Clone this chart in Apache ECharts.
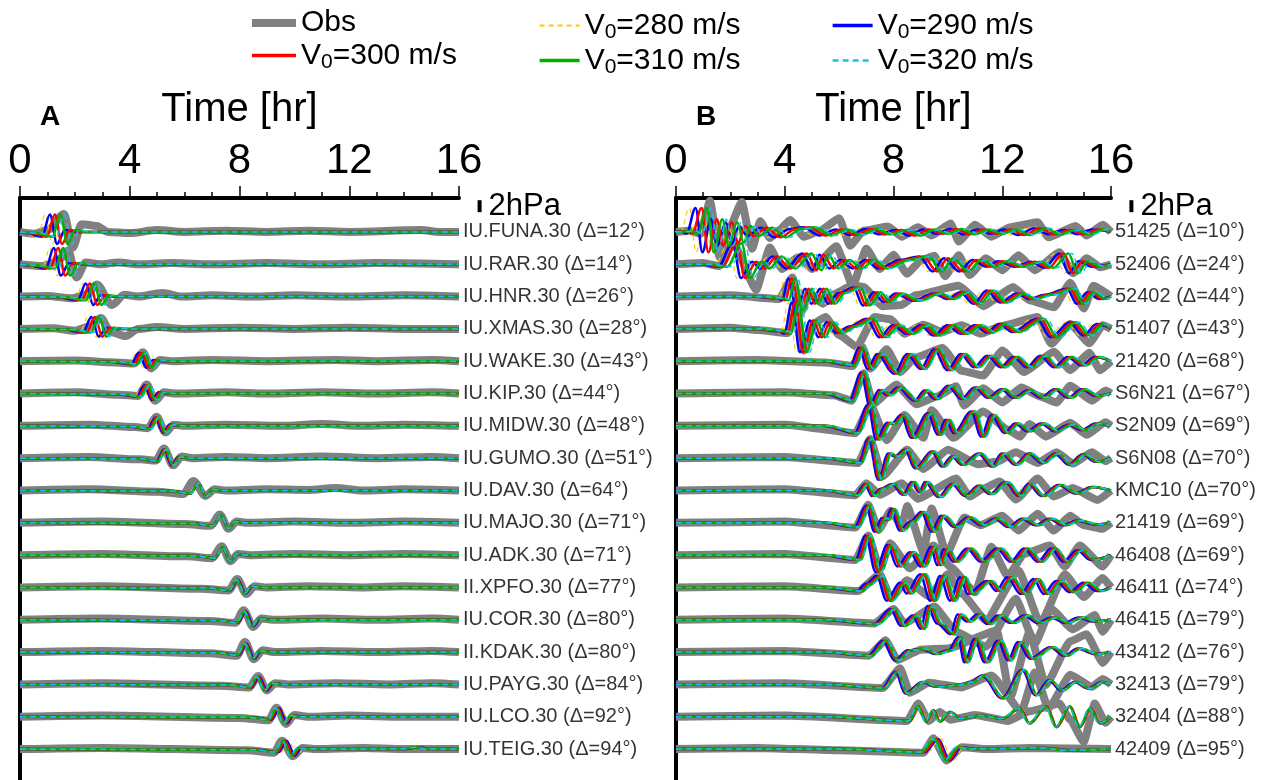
<!DOCTYPE html>
<html>
<head>
<meta charset="utf-8">
<script src="https://cdn.jsdelivr.net/npm/echarts@6/dist/echarts.min.js"></script>
<style>html,body{margin:0;padding:0;background:#fff}#c{width:1271px;height:780px}</style>
</head>
<body>
<div id="c"></div>
<script>
// ---------------- DATA ----------------
const S = 5.4;            // spacing between traces, hPa
const scaleBarHPa = 2;    // scale bar length
const xTicks = [0, 4, 8, 12, 16];

const stationsA = ['IU.FUNA.30 (Δ=12°)','IU.RAR.30 (Δ=14°)','IU.HNR.30 (Δ=26°)','IU.XMAS.30 (Δ=28°)','IU.WAKE.30 (Δ=43°)','IU.KIP.30 (Δ=44°)','IU.MIDW.30 (Δ=48°)','IU.GUMO.30 (Δ=51°)','IU.DAV.30 (Δ=64°)','IU.MAJO.30 (Δ=71°)','IU.ADK.30 (Δ=71°)','II.XPFO.30 (Δ=77°)','IU.COR.30 (Δ=80°)','II.KDAK.30 (Δ=80°)','IU.PAYG.30 (Δ=84°)','IU.LCO.30 (Δ=92°)','IU.TEIG.30 (Δ=94°)'];
const stationsB = ['51425 (Δ=10°)','52406 (Δ=24°)','52402 (Δ=44°)','51407 (Δ=43°)','21420 (Δ=68°)','S6N21 (Δ=67°)','S2N09 (Δ=69°)','S6N08 (Δ=70°)','KMC10 (Δ=70°)','21419 (Δ=69°)','46408 (Δ=69°)','46411 (Δ=74°)','46415 (Δ=79°)','43412 (Δ=76°)','32413 (Δ=79°)','32404 (Δ=88°)','42409 (Δ=95°)'];

// observed waveforms [time hr, hPa]
const obsA = [
 [[0,0],[0.5,-0.3],[1.0,0.3],[1.6,3.0],[1.92,-2.6],[2.25,1.3],[2.8,1.0],[3.2,0],[4.0,-0.2],[5.0,0.3],[6.0,0],[7.5,0.2],[9.0,0],[10.5,0.2],[12,0],[14.6,0.3],[15.3,0],[16,0]],
 [[0,0],[0.8,-0.3],[1.35,0.4],[1.75,2.3],[2.06,-2.2],[2.4,0.3],[2.9,0],[3.6,0.3],[4.3,0],[5.5,0.2],[7,0],[9,0.2],[11,0],[13,0.2],[16,0]],
 [[0,0],[1.0,0.1],[1.9,-0.3],[2.45,0.4],[2.8,2.0],[3.35,-1.4],[3.8,0.3],[4.3,0],[5.2,0.6],[5.9,0],[7.0,0.2],[8.5,0],[10,0.2],[12,0],[14,0.2],[16,0]],
 [[0,0],[1.2,0.1],[2.0,-0.3],[2.55,0.4],[2.95,1.8],[3.3,-0.5],[3.85,-1.2],[4.3,0],[5.0,0.3],[6.0,0],[8,0.2],[10,0],[12,0.2],[14,0],[16,0]],
 [[0,0],[2.0,0.1],[3.5,-0.2],[4.15,-0.4],[4.48,1.5],[4.78,-1.2],[5.1,0.2],[5.6,0],[7,0.2],[9,0],[11.5,0.2],[13,0],[15,0.2],[16,0]],
 [[0,0],[2.0,0.2],[3.6,-0.2],[4.3,-0.4],[4.62,1.5],[4.92,-1.2],[5.25,0.2],[5.7,0],[7.5,0.2],[9,0],[11,0.2],[13,0],[15,0.2],[16,0]],
 [[0,0],[2.5,0.2],[4.2,-0.2],[4.65,-0.4],[4.98,1.5],[5.3,-1.1],[5.6,0.2],[6.0,0],[7.5,0.2],[9.5,0],[11,0.3],[12.5,0],[14,0.2],[16,0]],
 [[0,0],[2.5,0.2],[4.4,-0.2],[4.95,-0.4],[5.25,1.6],[5.58,-1.2],[5.9,0.3],[6.3,0],[7.5,0.2],[9,0],[11,0.3],[13,0],[15,0.2],[16,0]],
 [[0,0],[2.5,0.2],[5.0,-0.2],[5.95,-0.6],[6.32,1.6],[6.75,-0.9],[7.1,0.2],[7.5,0],[9,0.2],[10.5,0.1],[11.5,0.4],[12.5,0],[14,0.2],[16,0]],
 [[0,0],[3,0.2],[6.0,-0.2],[6.95,-0.5],[7.28,1.4],[7.6,-1.0],[7.9,0.2],[8.3,0],[10,0.2],[12,0],[14,0.2],[16,0]],
 [[0,0],[3,0.2],[6.1,-0.2],[7.0,-0.5],[7.35,1.5],[7.67,-1.0],[7.95,0.2],[8.4,0],[10,0.2],[12,0],[14,0.2],[16,0]],
 [[0,0],[3,0.2],[6.6,-0.2],[7.6,-0.5],[7.92,1.4],[8.25,-1.1],[8.55,0.2],[9,0],[10.5,0.2],[12.5,0],[14,0.2],[16,0]],
 [[0,0],[3,0.2],[6.9,-0.2],[7.85,-0.5],[8.15,1.6],[8.5,-1.2],[8.8,0.2],[9.3,0],[11,0.2],[13,0],[15,0.2],[16,0]],
 [[0,0],[3,0.2],[6.9,-0.2],[7.9,-0.6],[8.2,1.7],[8.52,-1.2],[8.85,0.3],[9.3,0],[11,0.2],[13,0],[15,0.2],[16,0]],
 [[0,0],[3,0.2],[7.3,-0.2],[8.35,-0.5],[8.68,1.4],[9.0,-1.0],[9.3,0.2],[9.8,0],[11.5,0.2],[13.5,0],[15,0.2],[16,0]],
 [[0,0],[3,0.2],[8.0,-0.2],[9.05,-0.6],[9.35,1.5],[9.7,-1.2],[10.0,0.3],[10.5,0],[12,0.2],[14,0],[16,0]],
 [[0,0],[3,0.2],[8.3,-0.2],[9.25,-0.6],[9.55,1.4],[9.95,-1.2],[10.3,0.2],[10.8,0],[12.5,0.2],[14,0],[16,0]]
];
// simulated waveforms, V0=300 m/s
const modA = [
 [[0,0],[0.4,-0.2],[0.98,-0.8],[1.27,2.9],[1.53,-2.0],[1.82,0.3],[2.2,0],[16,0]],
 [[0,0],[0.5,-0.2],[1.1,-0.7],[1.39,2.7],[1.65,-1.9],[1.95,0.2],[2.35,0],[16,0]],
 [[0,0],[1.5,-0.1],[2.25,-0.6],[2.55,2.2],[2.82,-1.4],[3.1,0.2],[3.5,0],[16,0]],
 [[0,0],[1.7,-0.1],[2.43,-0.6],[2.73,2.0],[3.0,-1.3],[3.28,0.2],[3.7,0],[16,0]],
 [[0,0],[3.4,-0.1],[4.15,-0.5],[4.43,1.4],[4.7,-1.1],[4.95,0.2],[5.35,0],[16,0]],
 [[0,0],[3.6,-0.1],[4.32,-0.5],[4.6,1.4],[4.87,-1.1],[5.12,0.2],[5.5,0],[16,0]],
 [[0,0],[4.0,-0.1],[4.7,-0.5],[4.98,1.4],[5.25,-1.1],[5.5,0.2],[5.9,0],[16,0]],
 [[0,0],[4.3,-0.1],[5.0,-0.5],[5.28,1.5],[5.55,-1.2],[5.8,0.2],[6.2,0],[16,0]],
 [[0,0],[5.5,-0.1],[6.22,-0.5],[6.5,1.3],[6.77,-1.0],[7.02,0.2],[7.4,0],[16,0]],
 [[0,0],[6.3,-0.1],[7.04,-0.5],[7.32,1.3],[7.6,-1.0],[7.85,0.2],[8.25,0],[16,0]],
 [[0,0],[6.35,-0.1],[7.1,-0.5],[7.38,1.3],[7.66,-1.0],[7.9,0.2],[8.3,0],[16,0]],
 [[0,0],[6.9,-0.1],[7.64,-0.5],[7.92,1.3],[8.2,-1.0],[8.45,0.2],[8.85,0],[16,0]],
 [[0,0],[7.2,-0.1],[7.92,-0.5],[8.2,1.4],[8.48,-1.1],[8.73,0.2],[9.15,0],[16,0]],
 [[0,0],[7.2,-0.1],[7.95,-0.5],[8.23,1.4],[8.51,-1.1],[8.76,0.2],[9.2,0],[16,0]],
 [[0,0],[7.7,-0.1],[8.4,-0.5],[8.68,1.3],[8.96,-1.0],[9.2,0.2],[9.6,0],[16,0]],
 [[0,0],[8.4,-0.1],[9.12,-0.5],[9.4,1.4],[9.68,-1.1],[9.93,0.2],[10.35,0],[16,0]],
 [[0,0],[8.6,-0.1],[9.37,-0.5],[9.65,1.4],[9.95,-1.1],[10.2,0.2],[10.6,0],[13.9,0],[14.5,0.3],[14.9,0],[16,0]]
];
// arrival offsets of the other models relative to V0=300 (hr)
const shiftA280 = [-0.35,-0.3,-0.25,-0.25,-0.18,-0.14,-0.1,-0.06,-0.02,0,0,0.03,0.04,0.05,0.07,0.1,0.14];
const shiftA290 = [-0.18,-0.16,-0.15,-0.13,-0.1,-0.07,-0.05,-0.03,0,0,0,0.02,0.03,0.03,0.04,0.05,0.06];
const shiftA310 = [0.2,0.18,0.15,0.15,0.1,0.07,0.05,0.03,0,0,0,-0.02,-0.02,-0.03,-0.04,-0.05,-0.06];
const shiftA320 = [0.35,0.3,0.27,0.25,0.18,0.13,0.09,0.05,0.02,0,0,-0.02,-0.03,-0.04,-0.06,-0.08,-0.1];

const obsB = [
 [[0,0],[0.5,0.2],[0.9,-0.3],[1.25,5.2],[1.6,-4.2],[1.95,0.5],[2.42,5.0],[2.8,-2.8],[3.1,1.8],[3.45,-1.0],[3.8,0.3],[4.2,2.0],[4.7,-0.8],[5.3,0.2],[6.0,2.3],[6.4,-2.3],[6.9,0.2],[7.8,0.9],[8.3,-0.8],[8.9,0.8],[9.4,-0.6],[10.1,1.4],[10.4,-1.6],[11.0,1.2],[11.6,-0.8],[12.3,0.8],[13.3,1.6],[13.7,-0.9],[14.7,1.0],[15.1,-0.6],[15.7,1.2],[16,0]],
 [[0,0],[1.0,0.2],[1.6,-0.3],[2.1,3.6],[2.95,-4.3],[3.45,2.8],[3.9,-0.8],[4.5,1.2],[5.0,-0.8],[5.9,3.0],[6.5,-3.6],[7.0,2.6],[7.5,-0.8],[8.0,1.6],[8.5,-1.6],[9.0,0.6],[9.5,1.4],[9.9,-2.0],[10.4,1.5],[10.8,-1.8],[11.4,1.0],[12.0,-1.0],[12.6,1.5],[13.2,-1.0],[14.1,2.0],[14.6,-1.5],[15.1,1.0],[15.6,-0.5],[16,0]],
 [[0,0],[2.0,0.2],[3.8,-0.4],[4.28,3.2],[4.6,-2.6],[4.9,0.6],[5.4,-1.2],[5.8,0.4],[6.5,1.9],[6.9,1.6],[7.6,-1.6],[8.3,-1.4],[8.8,0.2],[10.4,1.8],[11.3,-1.6],[12.4,1.6],[13.0,-0.6],[13.9,-1.8],[14.5,2.3],[15.0,-2.0],[15.35,1.8],[16,0]],
 [[0,0],[2.0,0.2],[3.0,-0.2],[4.1,-0.7],[4.4,4.2],[4.7,-3.6],[5.1,1.0],[5.5,2.0],[6.0,-1.0],[6.65,-3.0],[7.3,2.0],[7.9,1.6],[8.4,-0.8],[9.1,0.7],[9.8,-0.5],[10.5,0.6],[11.2,-0.8],[12.0,0.5],[13.3,2.0],[13.8,-2.5],[14.5,0.8],[15.2,-2.4],[15.7,0.6],[16,0]],
 [[0,0],[3,0.2],[5.5,-0.2],[6.5,-0.8],[6.85,2.4],[7.15,-1.2],[7.75,2.0],[8.25,-1.8],[8.8,0.6],[9.8,2.2],[10.5,-1.6],[11.3,-2.4],[12.0,1.8],[12.8,-1.8],[13.9,1.6],[14.5,-1.5],[15.2,1.4],[15.6,-1.5],[16,0]],
 [[0,0],[4,0.2],[5.8,-0.3],[6.46,-1.2],[6.9,3.4],[7.25,-1.8],[8.1,1.5],[8.85,-1.8],[9.6,-0.5],[10.3,1.2],[10.6,-2.0],[11.3,0.9],[12.0,-1.5],[12.7,1.0],[13.4,-0.5],[14.0,-1.5],[14.5,1.3],[15.3,-1.2],[15.8,0.5],[16,0]],
 [[0,0],[4,0.2],[6.6,-1.2],[7.15,3.5],[7.75,-2.4],[8.4,1.8],[9.1,-2.0],[9.4,2.6],[10.2,-2.0],[11.3,2.4],[12.2,-0.6],[12.65,-1.8],[13.0,0.3],[13.6,-1.8],[14.5,0.5],[15.1,-1.5],[15.8,0.6],[16,0]],
 [[0,0],[4,0.2],[6.7,-0.8],[7.14,3.2],[7.6,-3.0],[8.5,1.4],[9.1,-1.8],[10.0,1.4],[11.1,-1.0],[11.8,-0.6],[12.5,1.0],[13.3,-0.8],[14.0,1.0],[14.6,-0.9],[15.3,1.0],[15.8,-0.5],[16,0]],
 [[0,0],[4,0.2],[6.6,-0.8],[7.0,1.2],[7.5,-0.7],[8.3,1.2],[8.9,-1.4],[10.3,2.0],[10.8,-1.0],[11.3,0.3],[11.9,1.5],[12.5,-1.5],[13.3,2.0],[13.9,-1.0],[14.6,0.4],[15.5,-1.6],[16,0]],
 [[0,0],[4,0.2],[6.6,-0.8],[7.07,3.0],[7.45,-1.2],[7.9,2.0],[8.3,-0.5],[8.5,2.8],[9.1,-4.8],[9.4,2.4],[9.95,-5.2],[10.6,0.9],[11.2,-0.4],[12.0,1.2],[12.6,-1.3],[13.3,1.5],[13.9,-1.3],[14.5,1.2],[15.0,-0.4],[15.7,-1.0],[16,0]],
 [[0,0],[4,0.2],[6.6,-0.8],[7.07,3.3],[7.5,-2.4],[7.87,2.0],[8.6,-2.2],[9.47,1.6],[10.1,-2.0],[11.0,-6.2],[11.6,1.4],[12.2,-3.5],[12.8,0.2],[13.75,1.6],[14.3,-1.9],[14.85,1.6],[15.7,-1.9],[16,0]],
 [[0,0],[4,0.2],[6.7,-0.6],[7.5,2.2],[7.9,-1.8],[8.5,1.2],[9.3,-1.5],[10.0,2.2],[10.5,-1.0],[11.4,-5.5],[12.6,2.8],[13.4,-6.0],[14.3,2.2],[15.0,-1.6],[15.7,1.6],[16,0]],
 [[0,0],[4,0.2],[7.3,-0.6],[8.0,1.8],[8.4,-0.6],[9.5,2.2],[10.3,-2.0],[11.4,-4.5],[12.5,3.5],[13.2,-4.0],[13.8,1.8],[14.6,-1.6],[15.4,0.8],[15.7,-2.0],[16,0]],
 [[0,0],[4,0.2],[7.1,-0.6],[7.7,2.0],[8.15,-1.3],[9.0,0.4],[10.0,0.6],[11.8,3.6],[12.3,-7.5],[13.0,3.3],[13.6,-5.5],[14.5,1.8],[15.1,3.0],[15.7,-1.8],[16,0]],
 [[0,0],[4,0.2],[7.6,-0.6],[8.24,2.7],[8.6,-1.4],[9.3,0.3],[10.5,-0.5],[11.6,1.5],[12.7,-4.5],[13.2,2.0],[13.7,-4.0],[14.5,1.6],[15.3,-0.4],[15.7,0.9],[16,0]],
 [[0,0],[4,0.2],[8.5,-0.7],[8.91,2.2],[9.3,-0.7],[9.7,0.8],[10.1,-0.5],[11.0,0.3],[12.2,-0.7],[13.0,0.9],[14.1,2.2],[14.5,-0.5],[15.0,-4.2],[15.4,2.2],[15.8,-1.0],[16,0]],
 [[0,0],[3,0.2],[6,-0.2],[9.1,-0.6],[9.47,1.8],[9.95,-1.9],[10.5,0.3],[11.5,0],[13,0.2],[16,0]]
];
const modB = [
 [[0,0],[0.4,0.1],[0.6,-0.3],[0.94,4.0],[1.19,-3.4],[1.5,2.1],[1.74,-2.3],[2.05,1.6],[2.29,-1.8],[2.54,1.0],[2.84,-0.7],[3.33,0.7],[3.83,-0.9],[4.4,0.5],[4.9,0.8],[5.5,-0.6],[6.1,0.4],[6.6,-0.5],[7.2,0.5],[7.7,-0.4],[8.3,0.3],[8.8,-0.6],[9.3,0.4],[9.8,-0.3],[10.3,0.5],[10.8,-0.4],[11.3,0.4],[11.8,-0.3],[12.3,0.4],[12.8,-0.5],[13.4,0.6],[13.9,-0.4],[14.5,0.3],[15.0,-0.4],[15.5,0.4],[16,0]],
 [[0,0],[1.0,0],[1.7,-0.4],[2.23,3.5],[2.54,-2.3],[2.95,0.4],[3.25,-0.7],[3.7,1.3],[4.2,-0.7],[4.8,1.8],[5.17,-1.0],[5.42,1.6],[5.79,-0.7],[6.2,0.7],[6.65,-0.7],[7.1,0.7],[7.6,-0.7],[8.4,0.7],[9.1,1.3],[9.59,-1.2],[10.0,1.0],[10.57,-1.2],[11.05,0.7],[11.55,-0.4],[12.0,0.5],[12.6,-0.4],[13.2,0.4],[13.7,-0.6],[14.25,1.8],[14.6,-1.5],[14.95,0.5],[15.45,-0.4],[16,0]],
 [[0,0],[3.0,0],[3.8,-0.3],[4.03,-0.6],[4.25,3.0],[4.56,-2.3],[4.87,1.3],[5.1,-1.2],[5.42,1.3],[5.72,-1.2],[6.1,0.6],[6.65,1.5],[7.0,-1.5],[7.4,0.7],[7.75,-0.9],[8.2,0.5],[8.85,-0.7],[9.6,0.5],[10.1,-0.4],[10.57,0.7],[11.06,-1.2],[11.55,1.0],[12.04,-1.0],[12.65,0.5],[13.1,-0.4],[13.7,0.3],[14.5,1.3],[14.86,-1.2],[15.25,0.7],[15.7,-0.4],[16,0]],
 [[0,0],[3.0,0],[3.9,-0.4],[4.1,-0.8],[4.38,4.4],[4.68,-3.9],[5.05,1.4],[5.36,-1.4],[5.66,1.1],[6.0,-0.7],[6.5,0.4],[7.14,1.7],[7.6,-1.4],[8.1,0.6],[8.6,-0.8],[9.1,0.6],[9.6,-1.1],[10.1,0.6],[10.6,-0.8],[11.1,0.6],[11.55,-0.6],[12.0,0.8],[12.5,-0.5],[13.4,1.7],[13.9,-1.4],[14.6,1.1],[15.1,-1.1],[15.6,0.8],[16,0]],
 [[0,0],[5.5,0],[6.52,-0.7],[6.83,2.3],[7.14,-1.3],[7.5,1.2],[8.12,-2.1],[8.6,1.2],[9.1,-1.3],[9.59,2.0],[10.08,-1.5],[10.57,1.2],[11.06,-1.0],[11.55,0.9],[12.04,-1.0],[12.5,0.7],[13.0,-1.0],[13.5,0.9],[14.0,-1.0],[14.5,0.7],[15.0,-0.7],[15.5,0.7],[16,0]],
 [[0,0],[5.5,0],[6.46,-1.2],[6.89,3.5],[7.2,-2.0],[7.55,0.6],[7.85,-0.3],[8.24,1.0],[8.85,-1.2],[9.22,0.5],[9.6,-0.9],[10.08,1.3],[10.57,-0.9],[11.06,1.0],[11.55,-0.7],[12.04,0.7],[12.5,-0.7],[13.0,0.5],[13.5,-0.7],[14.0,0.7],[14.5,-0.7],[15.0,0.7],[15.5,-0.4],[16,0]],
 [[0,0],[5.5,0],[6.65,-1.2],[7.14,3.5],[7.44,-2.3],[7.85,0.5],[8.0,0.3],[8.36,1.8],[8.73,-2.0],[9.34,2.1],[9.71,-1.5],[10.0,1.0],[10.3,-1.2],[10.94,2.4],[11.3,-1.8],[11.67,1.8],[12.16,-1.2],[12.55,0.4],[13.0,-0.9],[13.5,0.4],[14.0,-0.9],[14.5,0.2],[15.0,-0.7],[15.5,0.4],[16,0]],
 [[0,0],[5.5,0],[6.77,-0.8],[7.14,3.3],[7.5,-3.6],[7.87,0.8],[8.1,0.3],[8.48,1.4],[8.85,-1.7],[9.47,1.1],[9.83,-1.4],[10.2,0.3],[10.57,-1.1],[11.18,0.8],[11.67,-1.4],[12.04,0.8],[12.53,-1.1],[13.02,0.8],[13.5,-0.8],[14.0,0.8],[14.5,-1.1],[15.0,0.6],[15.5,-0.6],[16,0]],
 [[0,0],[5.5,0],[6.65,-0.8],[7.01,1.1],[7.26,-0.9],[7.6,0.3],[7.99,1.1],[8.4,-0.7],[8.73,1.4],[9.0,-0.3],[9.22,1.4],[9.71,-1.1],[10.2,1.1],[10.69,-0.9],[11.18,0.8],[11.6,-0.6],[12.16,1.4],[12.65,-0.9],[13.02,1.1],[13.51,-0.9],[14.12,0.9],[14.74,-0.5],[15.35,0.6],[16,0]],
 [[0,0],[5.5,0],[6.65,-0.7],[7.07,2.9],[7.38,-1.5],[7.65,0.8],[7.8,0.5],[7.99,2.3],[8.3,-1.3],[8.7,0.2],[9.1,1.8],[9.47,-1.5],[9.83,1.2],[10.3,-0.7],[10.8,0.9],[11.3,-0.4],[11.8,0.7],[12.3,-0.7],[12.8,0.7],[13.3,-0.4],[13.8,0.7],[14.3,-0.4],[14.8,0.4],[15.5,-0.3],[16,0]],
 [[0,0],[5.5,0],[6.7,-0.8],[7.07,3.3],[7.44,-2.8],[7.87,1.7],[8.24,-1.9],[8.7,0.5],[9.1,-1.9],[9.47,1.4],[9.71,-1.7],[9.95,1.0],[10.3,-1.1],[10.8,1.1],[11.3,-1.1],[11.9,1.1],[12.4,-1.1],[12.9,1.1],[13.4,-1.1],[13.9,1.1],[14.35,-1.1],[14.85,0.8],[15.35,-0.8],[16,0]],
 [[0,0],[5.5,0],[6.77,-0.6],[7.1,0.6],[7.5,1.9],[7.87,-2.2],[8.35,0.8],[8.6,-1.0],[9.1,2.2],[9.47,-2.2],[9.83,1.9],[10.2,-2.2],[10.57,1.7],[10.85,-1.1],[11.55,1.1],[11.9,-0.6],[12.3,1.7],[12.8,-1.1],[13.27,1.4],[13.65,-1.1],[14.1,1.1],[14.6,-0.8],[15.1,0.8],[15.6,-0.6],[16,0]],
 [[0,0],[5.5,0],[7.38,-0.7],[7.99,1.8],[8.36,-1.0],[8.8,0.7],[9.1,-1.5],[9.34,2.3],[9.7,-0.6],[10.2,-2.4],[10.45,0.9],[10.8,-0.3],[11.18,0.9],[11.55,-0.7],[11.92,0.7],[12.4,-0.5],[12.9,0.7],[13.4,-0.5],[13.9,0.4],[14.4,-0.5],[14.9,0.4],[15.4,-0.3],[16,0]],
 [[0,0],[5.5,0],[7.14,-0.6],[7.69,1.9],[8.12,-1.4],[8.6,0.3],[9.1,0.5],[9.6,-0.3],[10.1,0.3],[10.45,2.5],[10.69,-1.7],[11.06,2.2],[11.43,-1.7],[11.92,1.9],[12.29,-1.4],[12.65,1.7],[13.1,-1.1],[13.85,0.8],[14.35,-0.6],[14.85,0.6],[15.45,-0.3],[16,0]],
 [[0,0],[5.5,0],[7.63,-0.6],[8.12,2.1],[8.48,-1.5],[9.1,0.4],[9.6,-0.4],[10.4,-0.1],[10.9,0.4],[11.3,1.5],[12.04,-2.3],[12.78,2.4],[13.27,-1.8],[13.76,0.7],[14.2,-1.0],[14.7,0.4],[15.2,-0.7],[15.7,0.4],[16,0]],
 [[0,0],[5.5,0],[8.6,-0.7],[8.91,1.7],[9.22,-0.8],[9.47,1.1],[9.71,-0.8],[10.08,0.8],[10.5,-0.3],[11.2,0.2],[12.0,-0.3],[12.65,1.4],[13.0,-1.1],[13.63,1.7],[14.0,-1.7],[14.49,1.7],[14.86,-1.7],[15.25,1.4],[15.6,-1.1],[16,0]],
 [[0,0],[6,0],[9.1,-0.5],[9.59,1.7],[10.02,-1.9],[10.45,0.3],[11.06,0],[13.5,0.2],[14.5,-0.2],[16,0]]
];
const shiftB280 = [-0.45,-0.3,-0.25,-0.25,-0.15,-0.1,-0.1,-0.1,-0.1,-0.1,-0.1,-0.12,-0.1,-0.08,0,0.05,0.15];
const shiftB290 = [-0.22,-0.15,-0.12,-0.12,-0.1,-0.08,-0.08,-0.06,-0.06,-0.08,-0.1,-0.12,-0.1,-0.08,-0.05,0,0.05];
const shiftB310 = [0.2,0.18,0.12,0.12,0.08,0.06,0.06,0.05,0.05,0.06,0.08,0.08,0.06,0.05,0.03,-0.02,-0.08];
const shiftB320 = [0.35,0.3,0.22,0.22,0.12,0.1,0.1,0.08,0.08,0.1,0.1,0.12,0.1,0.08,0.03,-0.05,-0.15];

// ---------------- STYLE ----------------
const models = [
  {name:'V0=280', shiftA:shiftA280, shiftB:shiftB280, color:'#FFC800', width:1.2, type:[5,4]},
  {name:'V0=290', shiftA:shiftA290, shiftB:shiftB290, color:'#0000FF', width:2.5, type:'solid'},
  {name:'V0=300', shiftA:null, shiftB:null, color:'#FF0000', width:2.5, type:'solid'},
  {name:'V0=310', shiftA:shiftA310, shiftB:shiftB310, color:'#00B000', width:2.5, type:'solid'},
  {name:'V0=320', shiftA:shiftA320, shiftB:shiftB320, color:'#18C0F0', width:1.5, type:[6,4]}
];
const OBS_COLOR = '#808080';
const FONT = 'Liberation Sans';
const yMax = 34/6, yMin = -(16*S + 31/6);

function place(wave, i, sh) {
  return wave.map(p => {
    const t = (sh && p[0] > 0 && p[0] < 16) ? p[0] + sh : p[0];
    return [t, p[1] - i*S];
  });
}
const series = [];
function addTraces(name, waves, gi, shifts, style, smooth) {
  waves.forEach((w, i) => {
    series.push({
      name: name, type:'line', xAxisIndex:gi, yAxisIndex:gi,
      data: place(w, i, shifts ? shifts[i] : 0),
      symbol:'none', smooth:smooth, smoothMonotone:'x', silent:true,
      itemStyle:{color:style.color},
      lineStyle: style
    });
  });
}
addTraces('Obs', obsA, 0, null, {color:OBS_COLOR, width:8}, 0.3);
addTraces('Obs', obsB, 1, null, {color:OBS_COLOR, width:8}, 0.15);
models.forEach(m => {
  const st = {color:m.color, width:m.width, type:m.type};
  addTraces(m.name, modA, 0, m.shiftA, st, 0.35);
  addTraces(m.name, modB, 1, m.shiftB, st, 0.35);
});
// station labels and scale bars
[stationsA, stationsB].forEach((names, gi) => {
  series.push({
    type:'scatter', xAxisIndex:gi, yAxisIndex:gi, symbolSize:2, silent:true, z:5,
    itemStyle:{color:'rgba(0,0,0,0)'},
    data: names.map((n, i) => ({value:[16, -i*S], name:n})),
    label:{show:true, position:'right', distance:3, formatter:p => p.name,
           fontFamily:FONT, fontSize:20, color:'#000'}
  });
  series.push({
    type:'custom', xAxisIndex:gi, yAxisIndex:gi, clip:false, silent:true, z:5,
    data:[[16.75, 3.3, 3.3 + scaleBarHPa]],
    renderItem:(params, api) => {
      const p1 = api.coord([api.value(0), api.value(1)]);
      const p2 = api.coord([api.value(0), api.value(2)]);
      return {type:'group', children:[
        {type:'line', shape:{x1:p1[0], y1:p1[1], x2:p2[0], y2:p2[1]}, style:{stroke:'#000', lineWidth:4}},
        {type:'text', x:p1[0] + 9, y:(p1[1] + p2[1]) / 2,
         style:{text:scaleBarHPa + 'hPa', fontSize:31, fontFamily:FONT, fill:'#000', verticalAlign:'middle', align:'left'}}
      ]};
    }
  });
});

function xAx(gi) {
  return {
    type:'value', gridIndex:gi, position:'top', min:xTicks[0], max:xTicks[xTicks.length-1], interval:4,
    name:'Time [hr]', nameLocation:'middle', nameGap:68,
    nameTextStyle:{fontSize:40, color:'#000', fontFamily:FONT},
    axisLine:{show:true, onZero:false, lineStyle:{color:'#000', width:4}},
    axisTick:{show:true, length:12, lineStyle:{color:'#000', width:1.5}},
    minorTick:{show:true, splitNumber:4, length:6, lineStyle:{color:'#000', width:1.5}},
    axisLabel:{fontSize:42, color:'#000', margin:16, fontFamily:FONT},
    splitLine:{show:false}
  };
}
function yAx(gi) {
  return {
    type:'value', gridIndex:gi, min:yMin, max:yMax,
    axisLine:{show:true, onZero:false, lineStyle:{color:'#000', width:4}},
    axisTick:{show:false}, axisLabel:{show:false}, splitLine:{show:false}
  };
}
const rich = {
  n:{fontSize:30, fontFamily:FONT, color:'#000', lineHeight:32},
  s:{fontSize:21, fontFamily:FONT, color:'#000', lineHeight:32, padding:[14,0,0,0]}
};
function legendFmt(name) {
  if (name === 'Obs') return '{n|Obs}';
  return '{n|V}{s|0}{n|=' + name.slice(3) + ' m/s}';
}
function legItem(name) {
  if (name === 'Obs') return {name:name, lineStyle:{width:8, color:OBS_COLOR}, itemStyle:{opacity:0}};
  const m = models.find(x => x.name === name);
  return {name:name, lineStyle:{width:m.width + 0.8, color:m.color, type:m.type}, itemStyle:{opacity:0}};
}
function leg(left, names, w) {
  return {
    left:left, top:3, orient:'vertical', itemGap:0, itemWidth:w, itemHeight:14,
    data:names.map(legItem), formatter:legendFmt, selectedMode:false,
    itemStyle:{opacity:0},
    textStyle:{rich:rich, fontSize:30, fontFamily:FONT}
  };
}

const option = {
  animation:false,
  backgroundColor:'#ffffff',
  textStyle:{fontFamily:FONT},
  title:[
    {text:'A', left:35, top:98, textStyle:{fontSize:28, fontWeight:'bold', color:'#000', fontFamily:FONT}},
    {text:'B', left:691, top:98, textStyle:{fontSize:28, fontWeight:'bold', color:'#000', fontFamily:FONT}}
  ],
  legend:[leg(243, ['Obs','V0=300'], 44), leg(533, ['V0=280','V0=310'], 40), leg(826, ['V0=290','V0=320'], 40)],
  grid:[
    {left:20, top:198, width:439, bottom:0},
    {left:676, top:198, width:435, bottom:0}
  ],
  xAxis:[xAx(0), xAx(1)],
  yAxis:[yAx(0), yAx(1)],
  series:series
};
const chart = echarts.init(document.getElementById('c'), null, {renderer:'canvas'});
chart.setOption(option);
</script>
</body>
</html>
